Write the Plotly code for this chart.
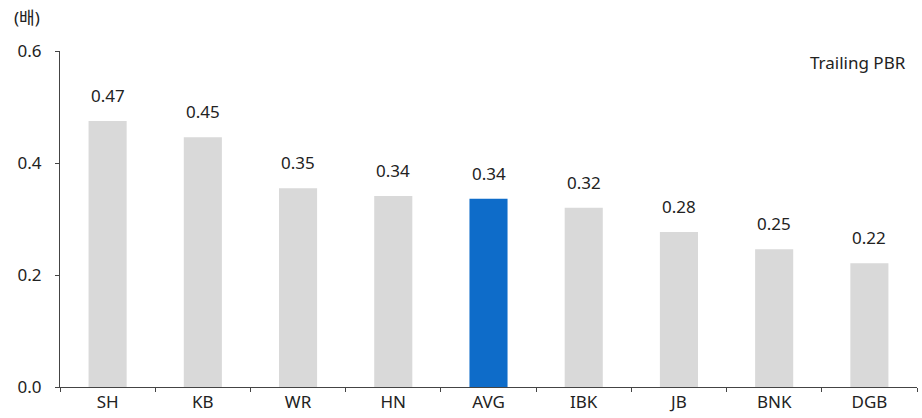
import plotly.graph_objects as go

categories = ["SH", "KB", "WR", "HN", "AVG", "IBK", "JB", "BNK", "DGB"]
values = [0.475, 0.446, 0.355, 0.341, 0.336, 0.320, 0.277, 0.246, 0.221]
labels = ["0.47", "0.45", "0.35", "0.34", "0.34", "0.32", "0.28", "0.25", "0.22"]
colors = ["#0E6CC9" if c == "AVG" else "#D9D9D9" for c in categories]

FONT = "Noto Sans, Noto Sans CJK KR"

fig = go.Figure(go.Bar(
    x=categories, y=values, marker=dict(color=colors, line=dict(width=0)),
    width=0.4, hoverinfo="skip",
))

annotations = [
    dict(x=c, y=v, text=t, xref="x", yref="y", showarrow=False,
         yanchor="bottom", yshift=12, font=dict(family=FONT, size=17, color="#222"))
    for c, v, t in zip(categories, values, labels)
]
annotations += [
    dict(text="(배)", xref="paper", yref="paper", x=0, y=1, xshift=-48, yshift=34,
         xanchor="left", yanchor="middle", showarrow=False,
         font=dict(family=FONT, size=17, color="#222")),
    dict(text="Trailing PBR", xref="paper", yref="paper", x=1, y=1, xshift=-9, yshift=-11,
         xanchor="right", yanchor="middle", showarrow=False,
         font=dict(family=FONT, size=17, color="#222")),
]

fig.update_layout(
    width=922, height=418,
    margin=dict(l=60, r=5, t=51, b=31),
    plot_bgcolor="white", paper_bgcolor="white",
    showlegend=False,
    font=dict(family=FONT, size=17, color="#222"),
    xaxis=dict(
        type="category", showline=True, linecolor="#444", linewidth=1,
        ticks="outside", tickson="boundaries", ticklen=4, tickcolor="#444",
        tickfont=dict(family=FONT, size=17, color="#222"), showgrid=False,
    ),
    yaxis=dict(
        range=[0, 0.6], tickvals=[0, 0.2, 0.4, 0.6], ticktext=["0.0", "0.2", "0.4", "0.6"],
        showline=True, linecolor="#444", linewidth=1, ticks="outside", ticklen=4,
        tickcolor="#444", showgrid=False, zeroline=False,
        tickfont=dict(family=FONT, size=17, color="#222"), ticklabelstandoff=10,
    ),
    annotations=annotations,
)

fig.write_html("out.html")
